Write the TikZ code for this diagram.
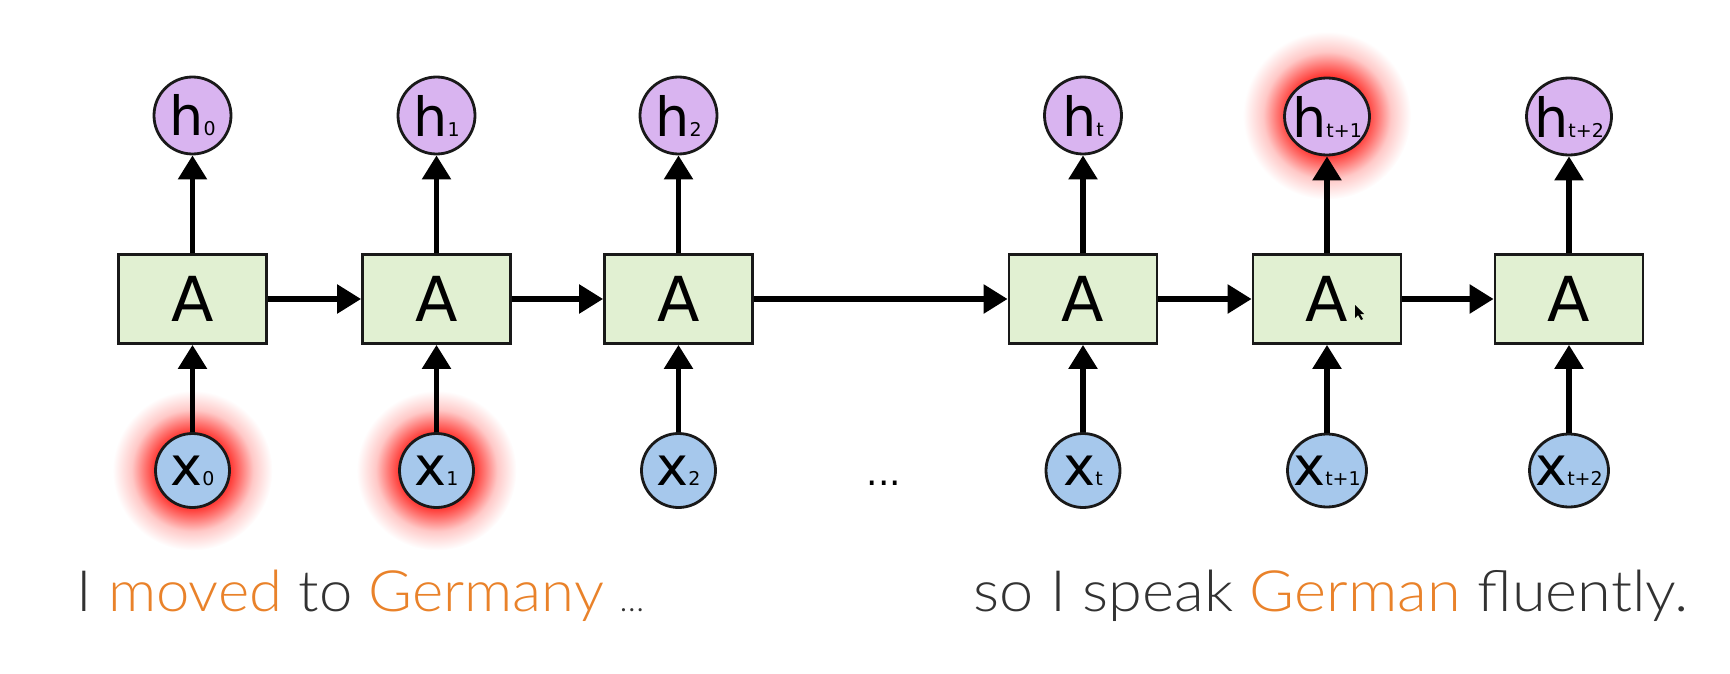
\documentclass[tikz,border=0pt]{standalone}
\usepackage{fontspec}
\usetikzlibrary{arrows.meta,shapes.geometric}
\newfontfamily\dejavu{DejaVu Sans}
\newfontfamily\rale{Lato Light}
\definecolor{boxfill}{RGB}{225,240,210}
\definecolor{hfill}{RGB}{217,180,240}
\definecolor{xfill}{RGB}{166,200,236}
\definecolor{edge}{RGB}{25,25,25}
\definecolor{orng}{RGB}{233,130,42}
\definecolor{txtgray}{RGB}{50,50,50}
\definecolor{glowred}{RGB}{255,60,55}
\pgfdeclareradialshading{glowshade}{\pgfpoint{0bp}{0bp}}{color(0bp)=(glowred); color(12bp)=(glowred); color(15bp)=(glowred!70!white); color(19bp)=(glowred!28!white); color(25bp)=(white); color(50bp)=(white)}
\newcommand\mylbl[2]{\makebox[0pt]{\fontsize{54}{54}\selectfont #1\fontsize{19}{19}\selectfont #2}}
\begin{document}
\begin{tikzpicture}[x=1pt,y=-1pt,
  cell/.style={draw=edge, line width=2.8pt, fill=boxfill, minimum width=148pt, minimum height=89pt, inner sep=0pt, font=\dejavu\fontsize{62}{62}\selectfont},
  hcirc/.style={circle, draw=edge, line width=2.8pt, fill=hfill, minimum size=77pt, inner sep=0pt, font=\dejavu},
  hell/.style={ellipse, draw=edge, line width=2.8pt, fill=hfill, minimum width=85pt, minimum height=77pt, inner sep=0pt, font=\dejavu},
  xcirc/.style={circle, draw=edge, line width=2.8pt, fill=xfill, minimum size=74pt, inner sep=0pt, font=\dejavu},
  xell/.style={ellipse, draw=edge, line width=2.8pt, fill=xfill, minimum width=79pt, minimum height=73pt, inner sep=0pt, font=\dejavu},
  arr/.style={line width=5.5pt, draw=black, -{Triangle[length=24pt,width=28pt]}},
  glow/.style={shading=glowshade},
  words/.style={anchor=base west, inner sep=0pt, font=\rale\fontsize{57}{57}\selectfont, text=txtgray}
  ]
\useasboundingbox (0,0) rectangle (1730,674);
% glows
\shade[glow] (192.5,470.5) circle (80pt);
\shade[glow] (436.5,470.5) circle (80pt);
\shade[glow] (1327,115.5) circle (84pt);
% cells
\node[cell] (b1) at (192.5,299) {A};
\node[cell] (b2) at (436.5,299) {A};
\node[cell] (b3) at (678.5,299) {A};
\node[cell] (b4) at (1083,299) {A};
\node[cell] (b5) at (1327,299) {A};
\node[cell] (b6) at (1569,299) {A};
% outputs
\node[hcirc] (h0) at (192.5,115.5) {\mylbl{h}{0}};
\node[hcirc] (h1) at (436.5,115.5) {\mylbl{h}{1}};
\node[hcirc] (h2) at (678.5,115.5) {\mylbl{h}{2}};
\node[hcirc] (ht) at (1083,115.5) {\mylbl{h}{t}};
\node[hell] (ht1) at (1327,116.5) {\mylbl{h}{t+1}};
\node[hell] (ht2) at (1569,116.5) {\mylbl{h}{t+2}};
% inputs
\node[xcirc] (x0) at (192.5,470.5) {\mylbl{x}{0}};
\node[xcirc] (x1) at (436.5,470.5) {\mylbl{x}{1}};
\node[xcirc] (x2) at (678.5,470.5) {\mylbl{x}{2}};
\node[xcirc] (xt) at (1083,470.5) {\mylbl{x}{t}};
\node[xell] (xt1) at (1327,470.5) {\mylbl{x}{t+1}};
\node[xell] (xt2) at (1569,470.5) {\mylbl{x}{t+2}};
% arrows
\foreach \c/\h/\x in {b1/h0/x0, b2/h1/x1, b3/h2/x2, b4/ht/xt, b5/ht1/xt1, b6/ht2/xt2}{
  \draw[arr] (\c) -- (\h);
  \draw[arr] (\x) -- (\c);
}
\draw[arr] (b1) -- (b2);
\draw[arr] (b2) -- (b3);
\draw[arr] (b3) -- (b4);
\draw[arr] (b4) -- (b5);
\draw[arr] (b5) -- (b6);
% ellipsis between
\node[inner sep=0pt, font=\dejavu\fontsize{36}{36}\selectfont] (dots) at (884,483) {...};
% mouse pointer
\fill[black] (1355,305) -- (1355,318) -- (1358,315) -- (1361,320) -- (1363,319) -- (1360,314) -- (1364,314) -- cycle;
% sentences
\node[words] (s1) at (76,611) {\scalebox{1.05}[1]{I {\color{orng}moved} to {\color{orng}Germany}} {\fontsize{34}{34}\selectfont …}};
\node[words] (s2) at (973,611) {\scalebox{1.075}[1]{so I speak {\color{orng}German} fluently.}};
\end{tikzpicture}
\end{document}
